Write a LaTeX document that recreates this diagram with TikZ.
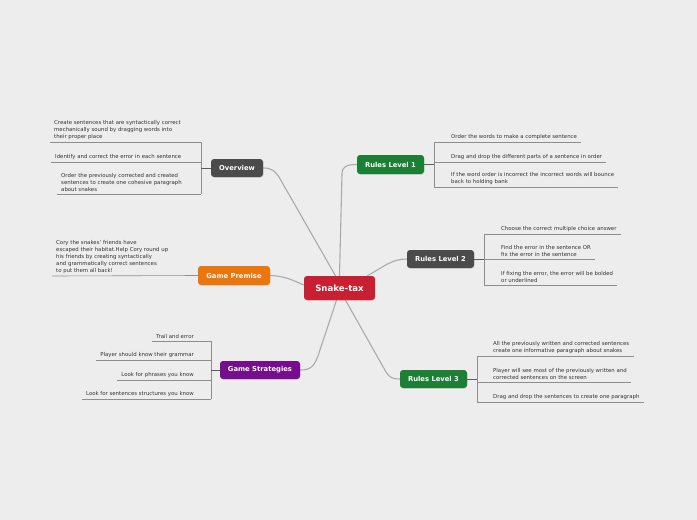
\documentclass[tikz,border=0pt]{standalone}
\usepackage{fontspec}
\setmainfont{DejaVu Sans}
\usetikzlibrary{shadows,calc}
\pgfdeclarelayer{back}
\pgfdeclarelayer{links}
\pgfsetlayers{back,links,main}
\definecolor{bg}{HTML}{EDEDED}
\definecolor{cred}{HTML}{C91F32}
\definecolor{cgray}{HTML}{4B4B4B}
\definecolor{corange}{HTML}{EC760E}
\definecolor{cpurple}{HTML}{760C8E}
\definecolor{cgreen}{HTML}{1B8034}
\definecolor{txt}{HTML}{333333}
\definecolor{conn}{HTML}{AAAAAA}
\definecolor{brk}{HTML}{8E8E8E}
\tikzset{
  topic/.style={rounded corners=3pt, text=white, font=\fontsize{6.8}{8}\selectfont\bfseries,
    minimum height=18pt, inner sep=0pt, drop shadow={opacity=0.18,shadow xshift=0.6pt,shadow yshift=-0.8pt}},
  central/.style={topic, font=\fontsize{8.6}{10}\selectfont\bfseries, minimum height=24pt, minimum width=71pt},
  child/.style={font=\fontsize{5.4}{7}\selectfont, text=txt, inner xsep=4pt, inner ysep=2pt, align=left},
  rchild/.style={child, align=right},
  mainlink/.style={draw=conn, line width=1.1pt, line cap=round},
  bracket/.style={draw=brk, line width=0.6pt},
  stub/.style={draw=cgray!90, line width=1pt}
}
\begin{document}
\begin{tikzpicture}[x=1pt,y=-1pt]
\begin{pgfonlayer}{back}
\fill[bg] (0,0) rectangle (697,520);
\end{pgfonlayer}
\useasboundingbox (0,0) rectangle (697,520);

\node[central, fill=cred] (snake) at (339.5,288) {Snake-tax};
\node[topic, fill=cgray, minimum width=52pt] (ov) at (237,168) {Overview};
\node[topic, fill=corange, minimum width=72pt, minimum height=19pt] (gp) at (234,275.5) {Game Premise};
\node[topic, fill=cpurple, minimum width=80pt] (gs) at (260,370) {Game Strategies};
\node[topic, fill=cgreen, minimum width=67pt, minimum height=19pt] (r1) at (390.5,164.5) {Rules Level 1};
\node[topic, fill=cgray, minimum width=67pt] (r2) at (440.5,259) {Rules Level 2};
\node[topic, fill=cgreen, minimum width=67pt] (r3) at (433.5,379) {Rules Level 3};

\begin{pgfonlayer}{links}
\path[mainlink] (ov.east) .. controls (272,168) and (275,171) .. (279,177) -- ($(snake.north)+(-4,0)$);
\path[mainlink] (snake.north) -- (342,174) .. controls (342,167) and (346,164.5) .. (r1.west);
\path[mainlink] ($(snake.north east)+(-8,0)$) .. controls (385,266) and (392,259) .. (r2.west);
\path[mainlink] ($(snake.south)+(6,0)$) -- (386,372) .. controls (390,378) and (393,379) .. (r3.west);
\path[mainlink] (gp.east) .. controls (285,276) and (292,280) .. ($(snake.west)+(0,-3)$);
\path[mainlink] (gs.east) .. controls (311,370) and (314,366) .. (318,356) -- ($(snake.south)+(-3,0)$);
\end{pgfonlayer}

% ---- Overview children
\node[child, anchor=south west] (o1) at (50,142) {Create sentences that are syntactically correct\\mechanically sound by dragging words into\\their proper place};
\node[child, anchor=south west] (o2) at (51,162) {Identify and correct the error in each sentence};
\node[child, anchor=south west] (o3) at (57,194) {Order the previously corrected and created\\sentences to create one cohesive paragraph\\about snakes};
\coordinate (ob1) at (201,142);
\coordinate (ob2) at (201,162);
\coordinate (ob3) at (201,194);
\coordinate (obm) at (201,168);
\path[bracket] (o1.south west) -- (ob1);
\path[bracket] (o2.south west) -- (ob2);
\path[bracket] (o3.south west) -- (ob3);
\path[bracket] (ob1) -- (ob3);
\path[stub] (obm) -- (ov.west);

% ---- Game Premise child
\node[child, anchor=south west] (p1) at (52,276) {Cory the snakes' friends have\\escaped their habitat.Help Cory round up\\his friends by creating syntactically\\and grammatically correct sentences\\to put them all back!};
\path[bracket] (p1.south west) -- (gp.west);

% ---- Game Strategies children
\node[rchild, anchor=south east] (s1) at (198,341) {Trail and error};
\node[rchild, anchor=south east] (s2) at (198,360) {Player should know their grammar};
\node[rchild, anchor=south east] (s3) at (198,380) {Look for phrases you know};
\node[rchild, anchor=south east] (s4) at (198,399) {Look for sentences structures you know};
\coordinate (sb1) at (211,341);
\coordinate (sb2) at (211,360);
\coordinate (sb3) at (211,380);
\coordinate (sb4) at (211,399);
\coordinate (sbm) at (211,370);
\path[bracket] (s1.south west) -- (sb1);
\path[bracket] (s2.south west) -- (sb2);
\path[bracket] (s3.south west) -- (sb3);
\path[bracket] (s4.south west) -- (sb4);
\path[bracket] (sb1) -- (sb4);
\path[stub] (sbm) -- (gs.west);

% ---- Rules Level 1 children
\coordinate (ab1) at (434,142);
\coordinate (ab2) at (434,162);
\coordinate (ab3) at (434,187);
\coordinate (abm) at (434,164.5);
\node[child, anchor=south west] (a1) at (447,142) {Order the words to make a complete sentence};
\node[child, anchor=south west] (a2) at (447,162) {Drag and drop the different parts of a sentence in order};
\node[child, anchor=south west] (a3) at (447,187) {If the word order is incorrect the incorrect words will bounce\\back to holding bank};
\path[bracket] (ab1) -- (a1.south east);
\path[bracket] (ab2) -- (a2.south east);
\path[bracket] (ab3) -- (a3.south east);
\path[bracket] (ab1) -- (ab3);
\path[stub] (r1.east) -- (abm);

% ---- Rules Level 2 children
\coordinate (bb1) at (484,234);
\coordinate (bb2) at (484,259);
\coordinate (bb3) at (484,285);
\node[child, anchor=south west] (b1) at (497,234) {Choose the correct multiple choice answer};
\node[child, anchor=south west] (b2) at (497,259) {Find the error in the sentence OR\\fix the error in the sentence};
\node[child, anchor=south west] (b3) at (497,285) {If fixing the error, the error will be bolded\\or underlined};
\path[bracket] (bb1) -- (b1.south east);
\path[bracket] (bb2) -- (b2.south east);
\path[bracket] (bb3) -- (b3.south east);
\path[bracket] (bb1) -- (bb3);
\path[stub] (r2.east) -- (bb2);

% ---- Rules Level 3 children
\coordinate (cb1) at (477,356);
\coordinate (cb2) at (477,382);
\coordinate (cb3) at (477,402);
\coordinate (cbm) at (477,379);
\node[child, anchor=south west] (c1) at (489,356) {All the previously written and corrected sentences\\create one informative paragraph about snakes};
\node[child, anchor=south west] (c2) at (489,382) {Player will see most of the previously written and\\corrected sentences on the screen};
\node[child, anchor=south west] (c3) at (489,402) {Drag and drop the sentences to create one paragraph};
\path[bracket] (cb1) -- (c1.south east);
\path[bracket] (cb2) -- (c2.south east);
\path[bracket] (cb3) -- (c3.south east);
\path[bracket] (cb1) -- (cb3);
\path[stub] (r3.east) -- (cbm);
\end{tikzpicture}
\end{document}
